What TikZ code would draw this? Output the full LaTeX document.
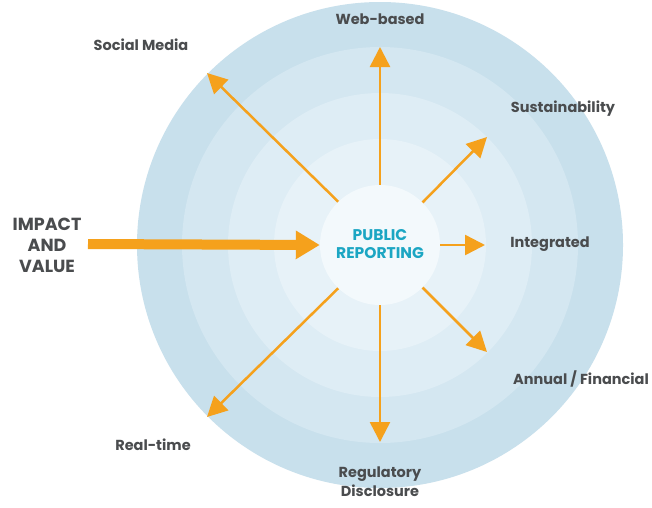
\documentclass[tikz,border=0pt]{standalone}
\usepackage{fontspec}
\setmainfont{Poppins}
\usetikzlibrary{arrows.meta}
\definecolor{ringA}{HTML}{C8E0EC}
\definecolor{ringB}{HTML}{D4E7F1}
\definecolor{ringC}{HTML}{DEEDF5}
\definecolor{ringD}{HTML}{E7F2F8}
\definecolor{ringF}{HTML}{F3F9FC}
\definecolor{arrowor}{HTML}{F5A11C}
\definecolor{labgray}{HTML}{4A4C4E}
\definecolor{teal}{HTML}{1BA6C3}
\begin{document}
\begin{tikzpicture}[x=1pt,y=-1pt,
  lab/.style={text=labgray,font=\fontsize{14.5}{16}\selectfont\bfseries,align=center,inner sep=0pt},
  spoke/.style={draw=arrowor,line width=2.5pt,-{Triangle[length=20pt,width=20pt]}},
  bigarrow/.style={draw=arrowor,line width=10pt,-{Triangle[length=24pt,width=27pt]}}]
\useasboundingbox (0,0) rectangle (652,507);
\fill[white] (0,0) rectangle (652,507);
\fill[ringA] (380,245) circle (243);
\fill[ringB] (380,245) circle (198);
\fill[ringC] (380,245) circle (152);
\fill[ringD] (380,245) circle (106);
\node[circle,fill=ringF,minimum size=120pt,inner sep=0pt] (pr) at (380,245) {};
\node[text=teal,font=\fontsize{15.5}{18}\selectfont\bfseries,align=center] at (380,244) {PUBLIC\\REPORTING};
% tips
\coordinate (tWeb) at (380,47);
\coordinate (tSM) at (207,73);
\coordinate (tSus) at (487,137);
\coordinate (tInt) at (485,245);
\coordinate (tAnn) at (487,352);
\coordinate (tReg) at (380,442);
\coordinate (tRT) at (207,417);
\coordinate (bigS) at (88,244);
\draw[spoke] (pr.90) -- (tWeb);
\draw[spoke] (pr.134) -- (tSM);
\draw[spoke] (pr.45) -- (tSus);
\draw[spoke] (pr.0) -- (tInt);
\draw[spoke] (pr.-45) -- (tAnn);
\draw[spoke] (pr.-90) -- (tReg);
\draw[spoke] (pr.-134) -- (tRT);
\draw[bigarrow] (bigS) -- (pr.west);
% labels
\node[lab] (lWeb) at (380,19) {Web-based};
\node[lab] (lSM) at (141,45) {Social Media};
\node[lab] (lSus) at (563,109) {Sustainability};
\node[lab] (lInt) at (550,244) {Integrated};
\node[lab] (lAnn) at (581,379) {Annual / Financial};
\node[lab] (lRT) at (153,445) {Real-time};
\node[lab,font=\fontsize{14.5}{19}\selectfont\bfseries] (lReg) at (380,482) {Regulatory\\Disclosure};
\node[lab,font=\fontsize{17.5}{21}\selectfont\bfseries] (lImp) at (47,245) {IMPACT\\AND\\VALUE};
\end{tikzpicture}
\end{document}
